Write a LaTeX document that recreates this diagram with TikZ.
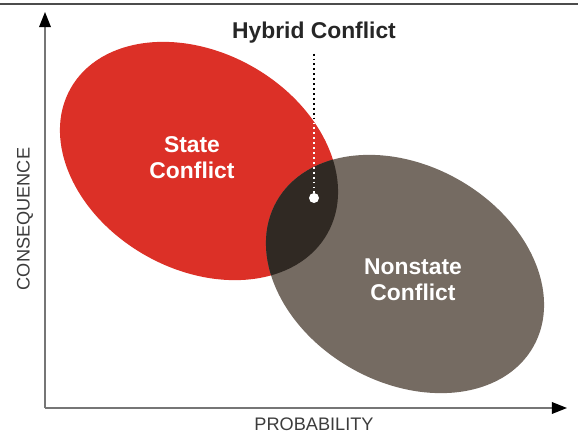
\documentclass[tikz,border=0pt]{standalone}
\usepackage{fontspec}
\setmainfont{Liberation Sans}
\usepackage{xcolor}
\usetikzlibrary{arrows.meta,calc}
\definecolor{statered}{RGB}{220,48,39}
\definecolor{nonstategray}{RGB}{117,107,98}
\definecolor{hybriddark}{RGB}{48,41,35}
\definecolor{axisgray}{RGB}{118,118,118}
\definecolor{labelgray}{RGB}{60,60,60}
\tikzset{
  bigtext/.style={font=\fontsize{19.5}{22}\selectfont\bfseries},
  axistext/.style={font=\fontsize{15.5}{18}\selectfont,text=labelgray},
  dotline/.style={line width=1.8pt,dash pattern=on 1.6pt off 2.6pt,shorten <=5pt},
  axisline/.style={draw=axisgray,line width=1.3pt,-{Triangle[length=13pt,width=10pt,black]}}
}
\newcommand{\stateshape}{(199,275) circle [x radius=147.5,y radius=108.5,rotate=-29.5]}
\newcommand{\nonstateshape}{(405,162) circle [x radius=147.5,y radius=108.5,rotate=-29.5]}

\begin{document}
\begin{tikzpicture}[x=0.03cm,y=0.03cm]
    \useasboundingbox (0,0) rectangle (578,436);
    \draw[draw=black!70,line width=1.6pt] (0,432) -- (578,432);
    % axes
    \coordinate (origin) at (45,28);
    \coordinate (ytop) at (45,424);
    \coordinate (xend) at (567,28);
    \draw[axisline] (origin) -- (ytop);
    \draw[axisline] (origin) -- (xend);
    \node[axistext,rotate=90] (conseq) at (25,217) {CONSEQUENCE};
    \node[axistext] (prob) at (314,12) {PROBABILITY};
    % the two kinds of conflict
    \fill[statered] \stateshape;
    \fill[nonstategray] \nonstateshape;
    \begin{scope}
      \clip \stateshape;
      \fill[hybriddark] \nonstateshape;
    \end{scope}
    \node[bigtext,white,align=center] (state) at (192,278) {State\\Conflict};
    \node[bigtext,white,align=center] (nonstate) at (413,156) {Nonstate\\Conflict};
    % hybrid
    \node[bigtext,text=black!85] (hybrid) at (314,403) {Hybrid Conflict};
    \coordinate (hdot) at (314,238);
    \draw[dotline,black] (hybrid.south) -- (hdot);
    \begin{scope}
      \clip \stateshape;
      \draw[dotline,white] (hybrid.south) -- (hdot);
    \end{scope}
    \fill[white] (hdot) circle (5);
\end{tikzpicture}
\end{document}
